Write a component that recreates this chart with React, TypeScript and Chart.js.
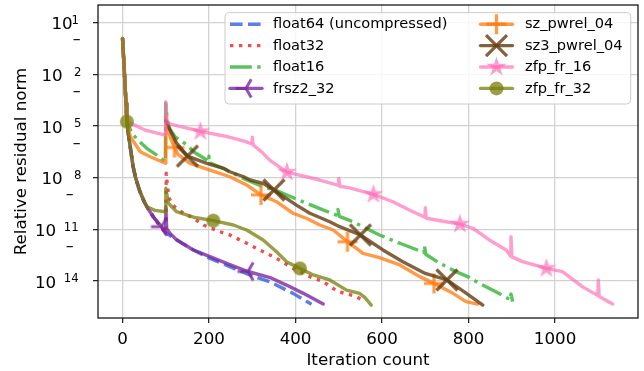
import React, { useEffect, useRef } from 'react';
import { Chart, registerables } from 'chart.js';

Chart.register(...registerables);

// ---------- axis ticks ----------
const X_TICKS = [0, 200, 400, 600, 800, 1000];
const Y_TICK_EXPONENTS = [1, -2, -5, -8, -11, -14];
const X_MIN = -56.75;
const X_MAX = 1191.75;
const Y_MIN_EXP = -16.15;
const Y_MAX_EXP = 2.02;

// ---------- data: iteration count and log10(relative residual norm) ----------
const float64Iter = [0, 3, 6, 8, 10, 13, 16, 20, 24, 30, 40, 50, 60, 71, 85, 100, 122, 156, 202, 248, 294, 340, 394, 437];
const float64Log = [0.08, -1.3, -2.75, -3.7, -4.75, -5.4, -5.9, -6.6, -7.3, -8.0, -8.8, -9.4, -9.85, -10.27, -10.75, -11.22, -11.55, -12.1, -12.69, -13.17, -13.65, -14.04, -14.72, -15.35];

const float32Iter = [0, 3, 6, 8, 10, 13, 16, 20, 24, 30, 40, 50, 60, 71, 85, 100, 101, 104, 108, 115, 125, 140, 164, 187, 225, 248, 287, 325, 356, 394, 433, 464, 498, 521, 541, 560];
const float32Log = [0.08, -1.3, -2.75, -3.7, -4.75, -5.4, -5.9, -6.6, -7.3, -8.0, -8.8, -9.4, -9.85, -10.27, -10.75, -11.22, -7.75, -8.6, -9.2, -9.55, -9.8, -10.05, -10.36, -10.75, -11.14, -11.33, -11.81, -12.3, -12.69, -13.27, -13.75, -14.04, -14.62, -14.76, -14.91, -15.2];

const float16Iter = [0, 3, 6, 8, 10, 22, 41, 56, 79, 99, 100, 103, 110, 122, 149, 164, 195, 199, 200, 203, 233, 248, 287, 325, 356, 402, 456, 497, 498, 501, 533, 594, 641, 697, 698, 701, 733, 771, 798, 825, 863, 897, 898, 902];
const float16Log = [0.08, -1.3, -2.75, -3.7, -4.75, -5.45, -5.95, -6.3, -6.69, -7.08, -3.7, -4.7, -5.2, -5.65, -6.1, -6.5, -6.98, -7.1, -6.75, -7.15, -7.46, -7.66, -8.14, -8.53, -8.75, -9.25, -9.8, -10.2, -9.85, -10.25, -10.56, -11.33, -11.81, -12.35, -11.95, -12.45, -12.97, -13.46, -13.75, -14.14, -14.62, -15.1, -14.75, -15.2];

const frsz2Iter = [0, 3, 6, 8, 10, 13, 16, 20, 24, 30, 40, 50, 60, 71, 80, 90, 99, 100, 102, 110, 125, 164, 202, 248, 290, 341, 379, 418, 464];
const frsz2Log = [0.08, -1.3, -2.75, -3.7, -4.75, -5.4, -5.9, -6.6, -7.3, -8.0, -8.8, -9.4, -9.85, -10.27, -10.55, -10.85, -11.15, -9.7, -10.95, -11.24, -11.62, -12.2, -12.59, -13.05, -13.45, -13.8, -14.24, -14.72, -15.34];

const szIter = [0, 3, 6, 8, 10, 18, 41, 64, 99, 100, 104, 110, 120, 128, 156, 202, 248, 287, 320, 356, 394, 425, 456, 487, 520, 556, 594, 641, 687, 720, 764, 794, 821];
const szLog = [0.08, -1.3, -2.75, -3.7, -4.75, -5.63, -6.5, -6.79, -7.17, -4.5, -5.2, -5.63, -6.25, -6.65, -7.17, -7.56, -7.95, -8.43, -9.0, -9.4, -10.07, -10.36, -10.75, -11.04, -11.72, -12.4, -12.65, -13.07, -13.75, -14.14, -14.72, -15.2, -15.34];

const sz3Iter = [100, 106, 125, 150, 195, 233, 248, 280, 295, 325, 350, 402, 433, 479, 502, 550, 602, 648, 700, 750, 795, 833];
const sz3Log = [-4.7, -5.05, -6.0, -6.75, -7.17, -7.46, -7.66, -7.95, -8.14, -8.33, -8.72, -9.6, -10.07, -10.56, -10.85, -11.33, -12.2, -12.88, -13.56, -13.94, -14.72, -15.4];

const zfp16Iter = [0, 3, 6, 8, 10, 52, 99, 100, 103, 110, 137, 180, 244, 283, 299, 300, 302, 325, 341, 380, 425, 456, 499, 500, 502, 525, 580, 625, 663, 699, 700, 702, 748, 780, 810, 848, 887, 897, 898, 900, 925, 980, 1017, 1063, 1099, 1100, 1102, 1133];
const zfp16Log = [0.08, -1.3, -2.75, -3.7, -4.75, -5.24, -5.53, -3.6, -4.7, -4.9, -5.05, -5.32, -5.63, -5.9, -6.05, -5.65, -6.1, -6.59, -7.0, -7.68, -7.95, -8.14, -8.45, -8.05, -8.5, -8.6, -8.97, -9.4, -9.88, -10.3, -9.75, -10.36, -10.56, -10.7, -10.94, -11.62, -12.2, -12.55, -11.43, -12.6, -12.88, -13.27, -13.46, -14.33, -14.85, -13.94, -14.9, -15.34];

const zfp32Iter = [0, 3, 6, 8, 10, 13, 16, 20, 24, 30, 40, 48, 56, 75, 99, 100, 106, 125, 164, 210, 256, 287, 325, 356, 379, 410, 441, 479, 518, 548, 560, 575];
const zfp32Log = [0.08, -1.3, -2.75, -3.7, -4.75, -5.4, -5.9, -6.6, -7.3, -8.0, -8.8, -9.25, -9.7, -9.9, -9.98, -8.62, -9.49, -9.98, -10.3, -10.5, -10.75, -11.04, -11.62, -12.3, -12.88, -13.27, -13.65, -13.94, -14.53, -14.72, -14.95, -15.4];

// iterations at which markers are drawn
const frsz2Markers = [90, 290];
const szMarkers = [120, 320, 520, 720];
const sz3Markers = [150, 350, 550, 750];
const zfp16Markers = [180, 380, 580, 780, 980];
const zfp32Markers = [10, 210, 410];

// ---------- styles ----------
const LW = 3.4;
const DASHED = [12.6, 5.4];
const DOTTED = [3.4, 5.6];
const DASHDOT = [21.8, 5.4, 3.4, 5.4];
const FONT = '"DejaVu Sans", "Liberation Sans", sans-serif';

type MarkerType = 'none' | 'tri' | 'plus' | 'x' | 'star' | 'circle';

const SERIES: { label: string; iters: number[]; logs: number[]; color: string; dash: number[]; marker: MarkerType; markers: number[] }[] = [
  { label: 'float64 (uncompressed)', iters: float64Iter, logs: float64Log, color: 'rgba(65,105,225,0.85)', dash: DASHED, marker: 'none', markers: [] },
  { label: 'float32', iters: float32Iter, logs: float32Log, color: 'rgba(235,35,35,0.8)', dash: DOTTED, marker: 'none', markers: [] },
  { label: 'float16', iters: float16Iter, logs: float16Log, color: 'rgba(50,180,50,0.8)', dash: DASHDOT, marker: 'none', markers: [] },
  { label: 'frsz2_32', iters: frsz2Iter, logs: frsz2Log, color: 'rgba(125,40,160,0.8)', dash: [], marker: 'tri', markers: frsz2Markers },
  { label: 'sz_pwrel_04', iters: szIter, logs: szLog, color: 'rgba(255,120,10,0.75)', dash: [], marker: 'plus', markers: szMarkers },
  { label: 'sz3_pwrel_04', iters: sz3Iter, logs: sz3Log, color: 'rgba(100,60,15,0.8)', dash: [], marker: 'x', markers: sz3Markers },
  { label: 'zfp_fr_16', iters: zfp16Iter, logs: zfp16Log, color: 'rgba(255,105,180,0.65)', dash: [], marker: 'star', markers: zfp16Markers },
  { label: 'zfp_fr_32', iters: zfp32Iter, logs: zfp32Log, color: 'rgba(120,125,10,0.75)', dash: [], marker: 'circle', markers: zfp32Markers },
];

function drawMarker(ctx: CanvasRenderingContext2D, type: MarkerType, x: number, y: number, color: string) {
  ctx.save();
  ctx.strokeStyle = color;
  ctx.fillStyle = color;
  ctx.lineCap = 'butt';
  ctx.lineJoin = 'miter';
  ctx.beginPath();
  if (type === 'plus') {
    const r = 10;
    ctx.lineWidth = 3.2;
    ctx.moveTo(x - r, y); ctx.lineTo(x + r, y);
    ctx.moveTo(x, y - r); ctx.lineTo(x, y + r);
    ctx.stroke();
  } else if (type === 'x') {
    const r = 10.5;
    ctx.lineWidth = 3.2;
    ctx.moveTo(x - r, y - r); ctx.lineTo(x + r, y + r);
    ctx.moveTo(x - r, y + r); ctx.lineTo(x + r, y - r);
    ctx.stroke();
  } else if (type === 'tri') {
    const r = 10.5;
    ctx.lineWidth = 3;
    ctx.moveTo(x, y); ctx.lineTo(x - r, y);
    ctx.moveTo(x, y); ctx.lineTo(x + r * 0.5, y - r * 0.866);
    ctx.moveTo(x, y); ctx.lineTo(x + r * 0.5, y + r * 0.866);
    ctx.stroke();
  } else if (type === 'circle') {
    ctx.arc(x, y, 7, 0, Math.PI * 2);
    ctx.fill();
  } else if (type === 'star') {
    const R = 10.5;
    const ri = R * 0.382;
    for (let i = 0; i < 10; i++) {
      const rr = i % 2 === 0 ? R : ri;
      const a = -Math.PI / 2 + (i * Math.PI) / 5;
      const px = x + rr * Math.cos(a);
      const py = y + rr * Math.sin(a);
      if (i === 0) ctx.moveTo(px, py); else ctx.lineTo(px, py);
    }
    ctx.closePath();
    ctx.fill();
  }
  ctx.restore();
}

function makeMarkerImage(type: MarkerType, color: string): HTMLCanvasElement {
  const c = document.createElement('canvas');
  c.width = 32;
  c.height = 32;
  const g = c.getContext('2d')!;
  drawMarker(g, type, 16, 16, color);
  return c;
}

export default function App() {
  const ref = useRef<HTMLCanvasElement>(null);

  useEffect(() => {
    const canvas = ref.current;
    if (!canvas) return;
    const n = SERIES.length;

    const datasets = SERIES.map((s, i) => {
      const markerSet = new Set(s.markers);
      const img = s.marker !== 'none' ? makeMarkerImage(s.marker, s.color) : null;
      return {
        label: s.label,
        data: s.iters.map((x, k) => ({ x, y: Math.pow(10, s.logs[k]) })),
        borderColor: s.color,
        backgroundColor: s.color,
        borderWidth: LW,
        borderDash: s.dash,
        borderCapStyle: s.dash.length ? 'butt' : 'round',
        borderJoinStyle: 'round',
        fill: false,
        tension: 0,
        order: n - i,
        pointStyle: img || 'circle',
        pointRadius: (ctx: any) => (img && ctx.raw && markerSet.has(ctx.raw.x) ? 8 : 0),
        pointHoverRadius: 0,
        pointBorderWidth: 0,
      };
    });

    const overlay = {
      id: 'overlay',
      afterDraw(chart: any) {
        const ctx: CanvasRenderingContext2D = chart.ctx;
        const { left, right, top, bottom } = chart.chartArea;
        const xs = chart.scales.x;
        const ys = chart.scales.y;
        ctx.save();

        // frame
        ctx.strokeStyle = '#1a1a1a';
        ctx.lineWidth = 1.3;
        ctx.strokeRect(left, top, right - left, bottom - top);

        // x tick labels
        ctx.fillStyle = '#000';
        ctx.font = `16.7px ${FONT}`;
        ctx.textAlign = 'center';
        ctx.textBaseline = 'alphabetic';
        X_TICKS.forEach((v) => ctx.fillText(String(v), xs.getPixelForValue(v), bottom + 26.2));

        // y tick labels
        Y_TICK_EXPONENTS.forEach((e) => {
          const ty = ys.getPixelForValue(Math.pow(10, e));
          const digits = String(Math.abs(e));
          let x10: number, xExp: number, xMinus = 0;
          if (e > 0) { x10 = left - 46.5; xExp = left - 26.6; }
          else if (digits.length === 1) { x10 = left - 56.5; xExp = left - 24; xMinus = left - 21.3; }
          else { x10 = left - 63.1; xExp = left - 34.3; xMinus = left - 28.3; }
          ctx.textAlign = 'left';
          ctx.font = `16.7px ${FONT}`;
          ctx.fillText('10', x10, ty + 6.6);
          ctx.font = `11.7px ${FONT}`;
          ctx.fillText(digits, xExp, ty + 1.5);
          if (e < 0) {
            ctx.textAlign = 'center';
            ctx.font = `bold 10px ${FONT}`;
            ctx.fillText('\u2212', xMinus, ty - 34.3 + 3.3);
          }
        });

        // axis titles
        ctx.font = `16.7px ${FONT}`;
        ctx.textAlign = 'center';
        ctx.fillText('Iteration count', (left + right) / 2, bottom + 47);
        ctx.save();
        ctx.translate(26, (top + bottom) / 2);
        ctx.rotate(-Math.PI / 2);
        ctx.fillText('Relative residual norm', 0, 0);
        ctx.restore();

        // legend
        const bx = 225, by = 12.7, bw = 405.7, bh = 91.3, rad = 4;
        ctx.beginPath();
        ctx.moveTo(bx + rad, by);
        ctx.lineTo(bx + bw - rad, by);
        ctx.arcTo(bx + bw, by, bx + bw, by + rad, rad);
        ctx.lineTo(bx + bw, by + bh - rad);
        ctx.arcTo(bx + bw, by + bh, bx + bw - rad, by + bh, rad);
        ctx.lineTo(bx + rad, by + bh);
        ctx.arcTo(bx, by + bh, bx, by + bh - rad, rad);
        ctx.lineTo(bx, by + rad);
        ctx.arcTo(bx, by, bx + rad, by, rad);
        ctx.closePath();
        ctx.fillStyle = 'rgba(255,255,255,0.82)';
        ctx.fill();
        ctx.strokeStyle = '#cccccc';
        ctx.lineWidth = 1;
        ctx.stroke();

        const rowY = [24.2, 45.6, 67.0, 88.4];
        const colX = [230, 480.5];
        const textX = [273, 525];
        SERIES.forEach((s, i) => {
          const col = i < 4 ? 0 : 1;
          const row = i % 4;
          const y = rowY[row];
          const x0 = colX[col];
          ctx.save();
          ctx.beginPath();
          ctx.strokeStyle = s.color;
          ctx.lineWidth = LW;
          ctx.setLineDash(s.dash);
          ctx.lineCap = s.dash.length ? 'butt' : 'round';
          ctx.moveTo(x0, y);
          ctx.lineTo(x0 + 32, y);
          ctx.stroke();
          ctx.restore();
          if (s.marker !== 'none') drawMarker(ctx, s.marker, x0 + 16, y, s.color);
          ctx.fillStyle = '#000';
          ctx.font = `14.6px ${FONT}`;
          ctx.textAlign = 'left';
          ctx.textBaseline = 'middle';
          ctx.fillText(s.label, textX[col], y + 0.5);
        });
        ctx.restore();
      },
    };

    const gridCommon = {
      color: '#d2d2d2',
      lineWidth: 1.3,
      drawTicks: true,
      tickLength: 5,
      tickColor: '#1a1a1a',
      tickWidth: 1.2,
    };

    const chart = new Chart(canvas, {
      type: 'line',
      data: { datasets: datasets as any },
      options: {
        responsive: false,
        animation: false,
        devicePixelRatio: 1,
        events: [],
        layout: { padding: { top: 5, right: 6, left: 0, bottom: 0 } },
        plugins: { legend: { display: false }, tooltip: { enabled: false } },
        scales: {
          x: {
            type: 'linear',
            min: X_MIN,
            max: X_MAX,
            afterBuildTicks: (s: any) => { s.ticks = X_TICKS.map((v) => ({ value: v })); },
            afterFit: (s: any) => { s.height = 53; },
            ticks: { display: false },
            grid: gridCommon,
            border: { display: false },
          },
          y: {
            type: 'logarithmic',
            min: Math.pow(10, Y_MIN_EXP),
            max: Math.pow(10, Y_MAX_EXP),
            afterBuildTicks: (s: any) => { s.ticks = Y_TICK_EXPONENTS.map((e) => ({ value: Math.pow(10, e) })); },
            afterFit: (s: any) => { s.width = 98; },
            ticks: { display: false },
            grid: gridCommon,
            border: { display: false },
          },
        },
      } as any,
      plugins: [overlay],
    });

    return () => chart.destroy();
  }, []);

  return (
    <div style={{ position: 'absolute', left: 0, top: 0, width: 644, height: 371, background: '#fff' }}>
      <canvas ref={ref} width={644} height={371} style={{ width: 644, height: 371, display: 'block' }} />
    </div>
  );
}
